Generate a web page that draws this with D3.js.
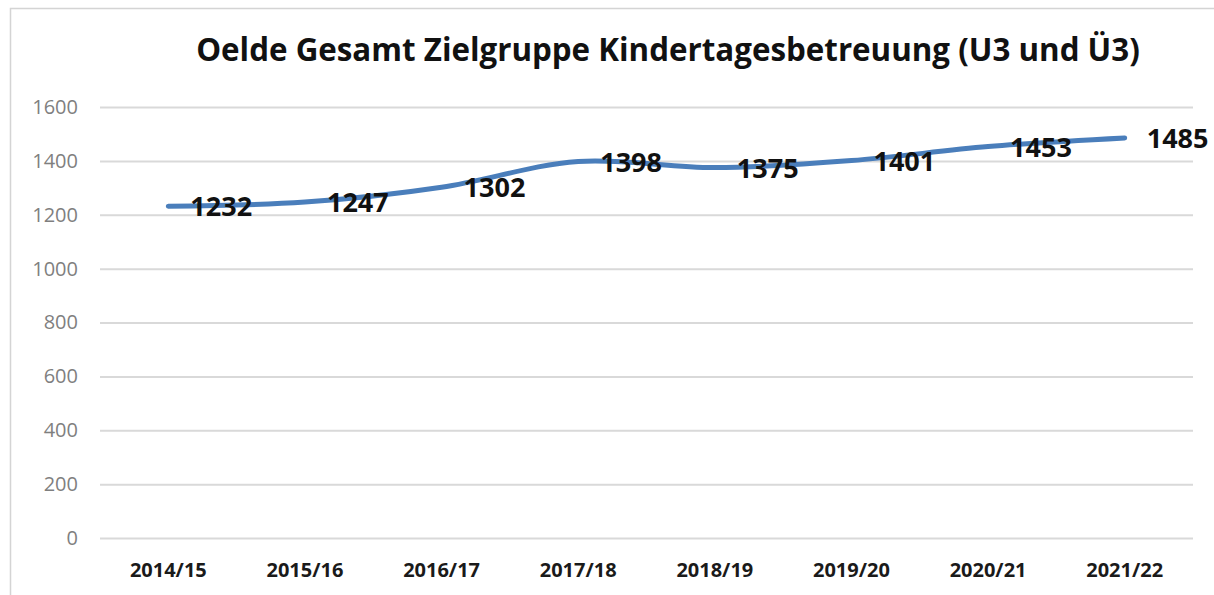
<!DOCTYPE html>
<html>
<head>
<meta charset="utf-8">
<script src="https://cdn.jsdelivr.net/npm/d3@7"></script>
<style>
  body { margin: 0; background: #fff; }
  svg { display: block; font-family: "Open Sans", "Liberation Sans", sans-serif; }
</style>
</head>
<body>
<div id="chart"></div>
<script>
const title = "Oelde Gesamt Zielgruppe Kindertagesbetreuung (U3 und Ü3)";
const years = ["2014/15", "2015/16", "2016/17", "2017/18", "2018/19", "2019/20", "2020/21", "2021/22"];
const kinder = [1232, 1247, 1302, 1398, 1375, 1401, 1453, 1485];
const yTicks = [0, 200, 400, 600, 800, 1000, 1200, 1400, 1600];

const width = 1214;
const height = 595;
const margin = { top: 107, left: 100, bottom: 57, right: 21 };
const iwidth = width - margin.left - margin.right;
const iheight = height - margin.top - margin.bottom;

const svg = d3.select("#chart").append("svg")
  .attr("width", width)
  .attr("height", height);

// chart frame (only left + top edges visible in the crop)
svg.append("path")
  .attr("d", `M10.5,${height} V8.5 H${width}`)
  .attr("fill", "none")
  .attr("stroke", "#d4d4d4")
  .attr("stroke-width", 1.5);

const t = svg.append("text")
  .attr("x", 668)
  .attr("y", 53)
  .attr("text-anchor", "middle")
  .attr("dominant-baseline", "middle")
  .attr("font-size", 30)
  .attr("font-weight", 700)
  .attr("fill", "#111")
  .text(title);
// fit title to the width it has in the original (~944px)
const tw = t.node().getComputedTextLength();
t.attr("font-size", 30 * 944 / tw);

const g = svg.append("g")
  .attr("transform", `translate(${margin.left},${margin.top})`);

const x = d3.scaleBand().domain(years).range([0, iwidth]);
const y = d3.scaleLinear().domain([0, 1600]).range([iheight, 0]);

// gridlines + y labels
const yAxis = g.append("g")
  .call(d3.axisLeft(y).tickValues(yTicks).tickFormat(d3.format("d")).tickSize(-iwidth).tickPadding(22));
yAxis.select(".domain").remove();
yAxis.selectAll(".tick line").attr("stroke", "#d9d9d9").attr("stroke-width", 2);
yAxis.selectAll(".tick text")
  .attr("font-size", 20)
  .attr("fill", "#7f7f7f")
  .attr("font-family", "Open Sans, sans-serif");

// x labels
const xAxis = g.append("g")
  .attr("transform", `translate(0,${iheight})`)
  .call(d3.axisBottom(x).tickSize(0).tickPadding(25));
xAxis.select(".domain").remove();
xAxis.selectAll(".tick text")
  .attr("font-size", 20)
  .attr("font-weight", 700)
  .attr("fill", "#1a1a1a")
  .attr("font-family", "Open Sans, sans-serif");

const cx = (d, i) => x(years[i]) + x.bandwidth() / 2;

const line = d3.line()
  .x(cx)
  .y(d => y(d))
  .curve(d3.curveCatmullRom.alpha(0.5));

g.append("path")
  .datum(kinder)
  .attr("fill", "none")
  .attr("stroke", "#4a7ebb")
  .attr("stroke-width", 5)
  .attr("stroke-linecap", "round")
  .attr("d", line);

g.selectAll(".lbl")
  .data(kinder)
  .enter()
  .append("text")
  .attr("class", "lbl")
  .attr("x", (d, i) => cx(d, i) + 22)
  .attr("y", d => y(d) + 3)
  .attr("dominant-baseline", "middle")
  .attr("font-size", 27)
  .attr("font-weight", 700)
  .attr("fill", "#111")
  .text(d => d);
</script>
</body>
</html>
